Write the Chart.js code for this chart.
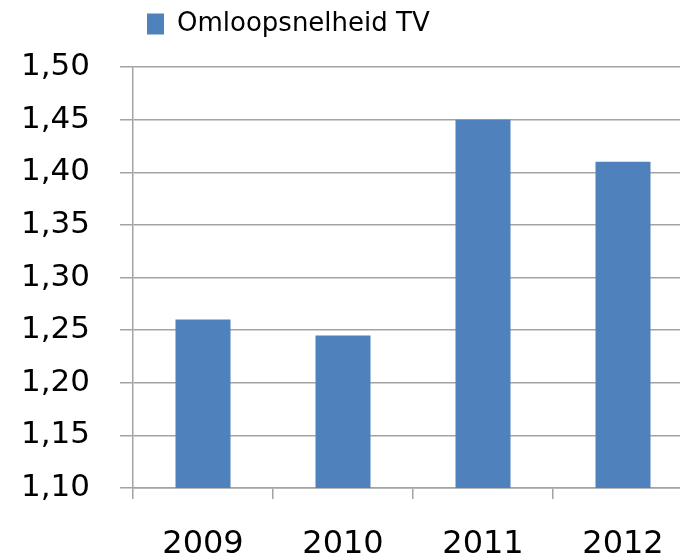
<!DOCTYPE html>
<html>
<head>
<meta charset="utf-8">
<script src="https://cdn.jsdelivr.net/npm/chart.js@4"></script>
<style>
  html, body { margin: 0; padding: 0; background: #fff; overflow: hidden; }
  #wrap { position: relative; width: 700px; height: 559px; }
</style>
</head>
<body>
<div id="wrap"><canvas id="c"></canvas></div>
<script>
const categories = ['2009', '2010', '2011', '2012'];
const seriesName = 'Omloopsnelheid TV';
const seriesValues = [1.26, 1.245, 1.45, 1.41];
const yTickValues = [1.10, 1.15, 1.20, 1.25, 1.30, 1.35, 1.40, 1.45, 1.50];

const GRID = '#a3a3a3';
const FONT = 'DejaVu Sans';

const legendPlace = {
  id: 'legendPlace',
  afterLayout(chart) {
    const lg = chart.legend;
    if (!lg) return;
    const pad = lg.options.labels.padding;
    const w = lg.width;
    lg.left = 147 - pad;
    lg.right = lg.left + w;
    const h = lg.height;
    lg.top = 1;
    lg.bottom = lg.top + h;
  }
};

new Chart(document.getElementById('c'), {
  type: 'bar',
  data: {
    labels: categories,
    datasets: [{
      label: seriesName,
      data: seriesValues,
      backgroundColor: '#4f81bd',
      borderWidth: 0,
      categoryPercentage: 1,
      barPercentage: 0.393
    }]
  },
  options: {
    responsive: true,
    maintainAspectRatio: false,
    animation: false,
    layout: { padding: { top: 21, left: 0, right: 7, bottom: 0 } },
    plugins: {
      legend: {
        position: 'top',
        align: 'start',
        labels: {
          boxWidth: 17,
          boxHeight: 21,
          padding: 10,
          color: '#000',
          font: { family: FONT, size: 26 }
        }
      },
      tooltip: { enabled: false }
    },
    scales: {
      x: {
        grid: {
          display: true,
          drawOnChartArea: false,
          drawTicks: true,
          tickLength: 11,
          color: GRID,
          lineWidth: 1.5
        },
        border: { display: true, color: GRID, width: 1.5 },
        ticks: {
          color: '#000',
          padding: 26,
          maxRotation: 0,
          font: { family: FONT, size: 32 }
        },
        afterFit(scale) { scale.height = 71; }
      },
      y: {
        min: 1.10,
        max: 1.50,
        afterBuildTicks(scale) { scale.ticks = yTickValues.map(v => ({ value: v })); },
        grid: {
          color: GRID,
          lineWidth: 1.5,
          drawTicks: true,
          tickLength: 13
        },
        border: { display: true, color: GRID, width: 1.5 },
        ticks: {
          color: '#000',
          padding: 30,
          font: { family: FONT, size: 31 },
          callback: (v) => Number(v).toFixed(2).replace('.', ',')
        },
        afterFit(scale) { scale.width = 133; }
      }
    }
  },
  plugins: [legendPlace]
});
</script>
</body>
</html>
